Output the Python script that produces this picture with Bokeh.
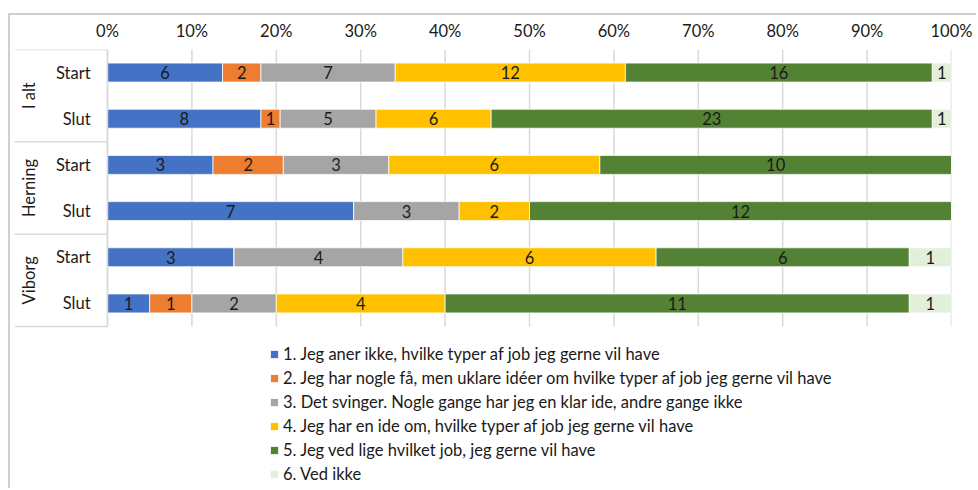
import math
from bokeh.plotting import figure
from bokeh.models import (ColumnDataSource, Range1d, FixedTicker, NumeralTickFormatter,
                          Legend, LegendItem)
from bokeh.core.properties import value
from bokeh.embed import file_html
from bokeh.resources import INLINE

# ---------------- data ----------------
groups = ["I alt", "Herning", "Viborg"]
periods = ["Start", "Slut"]
answers = [
    "1. Jeg aner ikke, hvilke typer af job jeg gerne vil have",
    "2. Jeg har nogle få, men uklare idéer om hvilke typer af job jeg gerne vil have",
    "3. Det svinger. Nogle gange har jeg en klar ide, andre gange ikke",
    "4. Jeg har en ide om, hvilke typer af job jeg gerne vil have",
    "5. Jeg ved lige hvilket job, jeg gerne vil have",
    "6. Ved ikke",
]
# counts per row: I alt Start, I alt Slut, Herning Start, Herning Slut, Viborg Start, Viborg Slut
ans1 = [6, 8, 3, 7, 3, 1]
ans2 = [2, 1, 2, 0, 0, 1]
ans3 = [7, 5, 3, 3, 4, 2]
ans4 = [12, 6, 6, 2, 6, 4]
ans5 = [16, 23, 10, 12, 6, 11]
ans6 = [1, 1, 0, 0, 1, 1]
tick_values = [0.0, 0.1, 0.2, 0.3, 0.4, 0.5, 0.6, 0.7, 0.8, 0.9, 1.0]

colors = ["#4472C4", "#ED7D31", "#A5A5A5", "#FFC000", "#548235", "#E2EFDA"]
FONT = "Lato"
FS = "16.5px"
TXT = "#1a1a1a"
GRID = "#d9d9d9"

series = [ans1, ans2, ans3, ans4, ans5, ans6]
rows = [(g, pr) for g in groups for pr in periods]
n = len(rows)
totals = [sum(col) for col in zip(*series)]
ys = [i + 0.5 for i in range(n)]

data = {"y": ys}
keys = []
for k, s in enumerate(series):
    key = f"s{k}"
    keys.append(key)
    data[key] = [v / t for v, t in zip(s, totals)]
source = ColumnDataSource(data)

# label positions (segment centres)
lx, ly, lt = [], [], []
for i in range(n):
    cum = 0.0
    for k, s in enumerate(series):
        share = s[i] / totals[i]
        if s[i] > 0:
            lx.append(cum + share / 2)
            ly.append(ys[i])
            lt.append(str(s[i]))
        cum += share
lab_src = ColumnDataSource(dict(x=lx, y=ly, t=lt))

# ---------------- figure ----------------
W, H = 968, 475
TOP = 34
FRAME_H = H - TOP
GRID_H = 277  # pixel height of the bar area
left_col = 93 / 844  # group-label column width in data units
y_end = n * FRAME_H / GRID_H
p = figure(width=W, height=H, x_range=Range1d(-left_col, 1.0), y_range=Range1d(y_end, 0),
           output_backend="svg", toolbar_location=None, x_axis_location="above",
           min_border_left=4, min_border_right=27, min_border_top=TOP, min_border_bottom=0)
p.margin = (13, 0, 0, 8)
p.styles = {"border-top": "2px solid #cfcfcf", "border-left": "2px solid #cfcfcf"}
p.outline_line_color = None
p.background_fill_color = "white"
p.border_fill_color = "white"

p.yaxis.visible = False
p.grid.visible = False
ticker = FixedTicker(ticks=tick_values)
ax = p.xaxis[0]
ax.ticker = ticker
ax.formatter = NumeralTickFormatter(format="0%")
ax.major_tick_line_color = None
ax.minor_tick_line_color = None
ax.axis_line_color = None
ax.major_label_text_font = FONT
ax.major_label_text_font_size = FS
ax.major_label_text_color = TXT
ax.major_label_standoff = 3

# vertical grid lines limited to the bar area
p.segment(x0=tick_values, x1=tick_values, y0=[0] * len(tick_values), y1=[n] * len(tick_values),
          line_color=GRID, line_width=1.5)

renderers = p.hbar_stack(keys, y="y", height=0.41, color=colors, line_color="white",
                         line_width=0.75, source=source)

p.text(x="x", y="y", text="t", source=lab_src, text_align="center", text_baseline="middle",
       text_font=value(FONT), text_font_size=FS, text_color=TXT)

# group-label boxes
bounds = [k * len(periods) for k in range(len(groups) + 1)]
p.segment(x0=[-left_col] * len(bounds), x1=[0] * len(bounds), y0=bounds, y1=bounds,
          line_color=GRID, line_width=1.5)
p.segment(x0=[0], x1=[0], y0=[0], y1=[n], line_color=GRID, line_width=1.5)

gy = [(bounds[k] + bounds[k + 1]) / 2 for k in range(len(groups))]
p.text(x=[-0.0936] * len(groups), y=gy, text=groups, angle=math.pi / 2,
       text_align="center", text_baseline="middle", text_font=value(FONT),
       text_font_size=FS, text_color=TXT)
p.text(x=[-0.02] * n, y=ys, text=[r[1] for r in rows], text_align="right",
       text_baseline="middle", text_font=value(FONT), text_font_size=FS, text_color=TXT)

legend = Legend(items=[LegendItem(label=a, renderers=[r]) for a, r in zip(answers, renderers)],
                location=(255, 6), orientation="vertical", glyph_width=10, glyph_height=10,
                label_standoff=4, spacing=3, label_height=21, label_text_font=FONT,
                label_text_font_size=FS, label_text_color=TXT, border_line_color=None,
                background_fill_alpha=0, margin=0, padding=0)
p.add_layout(legend, "center")

open("out.html", "w").write(file_html(p, INLINE))
